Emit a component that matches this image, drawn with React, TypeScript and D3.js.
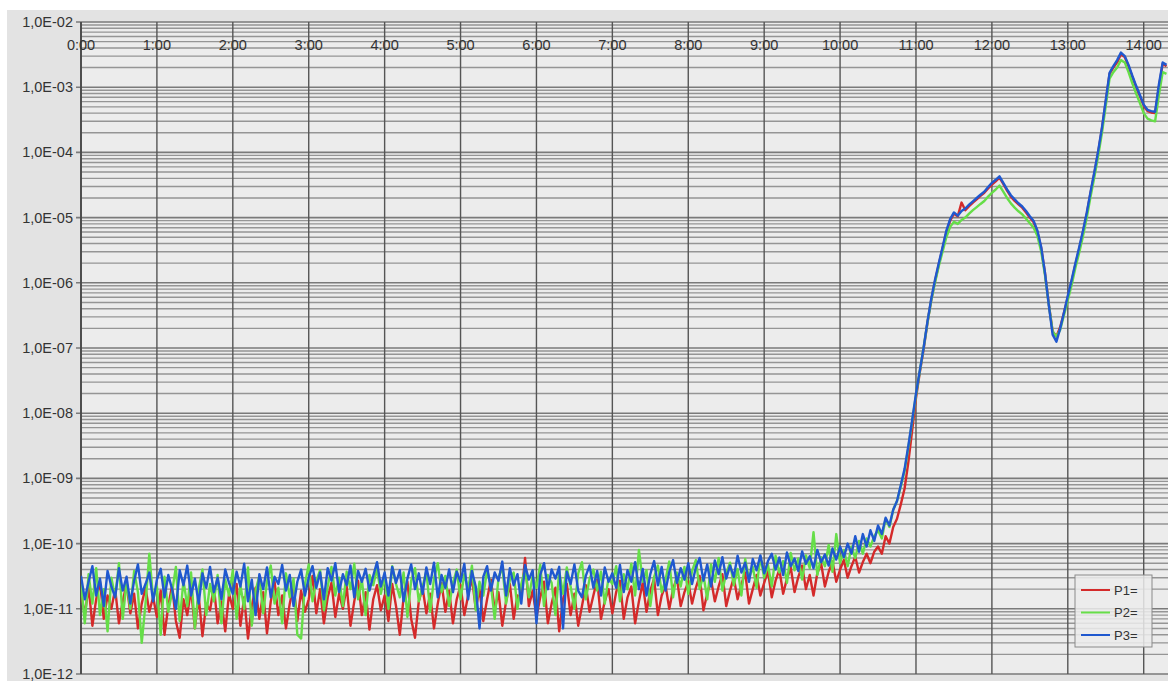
import React from 'react';
import * as d3 from 'd3';

// samples every 3 minutes, starting at 0:00
const STEP_MIN = 3;

const p1 = [
  1.8e-11, 8.0e-12, 2.2e-11, 5.5e-12, 1.4e-11, 2.6e-11, 7.0e-12, 1.6e-11, 1.0e-11, 2.0e-11, 6.0e-12, 1.3e-11, 2.4e-11, 8.5e-12, 1.7e-11, 5.0e-12, 1.2e-11, 2.1e-11, 9.0e-12, 1.5e-11,
  7.5e-12, 1.9e-11, 4.0e-12, 1.1e-11, 2.3e-11, 6.5e-12, 3.6e-12, 1.4e-11, 8.0e-12, 2.0e-11, 5.0e-12, 1.6e-11, 3.8e-12, 1.2e-11, 9.5e-12, 2.2e-11, 6.0e-12, 1.3e-11, 4.5e-12, 1.7e-11,
  1.0e-11, 2.4e-11, 5.5e-12, 1.5e-11, 3.5e-12, 1.1e-11, 2.1e-11, 7.0e-12, 1.8e-11, 4.2e-12, 1.3e-11, 2.6e-11, 8.0e-12, 1.6e-11, 5.0e-12, 1.2e-11, 2.3e-11, 6.5e-12, 1.9e-11, 9.0e-12,
  1.4e-11, 3.2e-11, 8.5e-12, 2.0e-11, 6.0e-12, 1.5e-11, 2.5e-11, 7.5e-12, 1.7e-11, 1.0e-11, 2.2e-11, 5.5e-12, 1.3e-11, 2.7e-11, 8.0e-12, 1.8e-11, 4.8e-12, 1.4e-11, 2.3e-11, 9.5e-12,
  1.6e-11, 6.5e-12, 2.4e-11, 1.1e-11, 4.0e-12, 1.5e-11, 2.6e-11, 7.0e-12, 3.6e-12, 1.3e-11, 2.1e-11, 8.5e-12, 1.7e-11, 5.0e-12, 1.2e-11, 2.5e-11, 9.0e-12, 1.9e-11, 6.0e-12, 1.4e-11,
  2.3e-11, 8.0e-12, 1.6e-11, 3.0e-11, 1.0e-11, 2.0e-11, 6.5e-12, 1.4e-11, 2.8e-11, 9.5e-12, 1.8e-11, 5.5e-12, 1.3e-11, 2.4e-11, 7.0e-12, 1.6e-11, 1.5e-11, 6.0e-11, 1.1e-11, 1.9e-11,
  7.5e-12, 1.5e-11, 2.6e-11, 6.0e-12, 1.2e-11, 2.1e-11, 4.5e-12, 1.4e-11, 2.4e-11, 8.0e-12, 1.7e-11, 5.5e-12, 1.1e-11, 2.3e-11, 9.0e-12, 1.6e-11, 2.8e-11, 7.0e-12, 1.3e-11, 2.0e-11,
  8.5e-12, 1.8e-11, 2.7e-11, 7.0e-12, 1.5e-11, 2.2e-11, 6.0e-12, 1.3e-11, 2.5e-11, 9.0e-12, 1.9e-11, 2.9e-11, 8.0e-12, 1.6e-11, 2.3e-11, 1.0e-11, 2.0e-11, 3.0e-11, 1.1e-11, 1.8e-11,
  2.6e-11, 1.2e-11, 2.1e-11, 3.2e-11, 9.5e-12, 1.7e-11, 2.8e-11, 1.3e-11, 2.2e-11, 3.4e-11, 1.1e-11, 1.9e-11, 3.0e-11, 1.4e-11, 2.4e-11, 3.6e-11, 1.2e-11, 2.0e-11, 3.3e-11, 1.6e-11,
  2.5e-11, 3.8e-11, 1.5e-11, 2.7e-11, 4.0e-11, 1.7e-11, 2.9e-11, 4.3e-11, 1.8e-11, 3.1e-11, 4.6e-11, 2.0e-11, 3.3e-11, 1.6e-11, 3.5e-11, 5.0e-11, 2.2e-11, 3.7e-11, 5.3e-11, 2.6e-11,
  4.0e-11, 5.6e-11, 3.0e-11, 4.5e-11, 6.3e-11, 3.6e-11, 5.2e-11, 7.0e-11, 5.0e-11, 7.5e-11,
  9.0e-11, 7.0e-11, 1.3e-10, 1.0e-10, 1.8e-10, 2.4e-10, 4.0e-10, 7.0e-10, 1.8e-9, 5.5e-9,
  1.7e-8, 4.2e-8, 9.5e-8, 2.4e-7, 5.4e-7, 1.05e-6, 1.9e-6, 3.4e-6, 6.0e-6, 9.0e-6, 1.15e-5, 1.05e-5, 1.7e-5, 1.3e-5, 1.5e-5, 1.7e-5, 1.9e-5, 2.15e-5, 2.4e-5, 2.8e-5,
  3.2e-5, 3.6e-5, 4.1e-5, 3.3e-5, 2.6e-5, 2.1e-5, 1.8e-5, 1.6e-5, 1.42e-5, 1.2e-5, 1.0e-5, 8.5e-6, 6.0e-6, 3.4e-6, 1.4e-6, 4.7e-7, 1.8e-7, 1.5e-7, 2.1e-7, 3.5e-7,
  6.0e-7, 1.05e-6, 1.9e-6, 3.3e-6, 6.0e-6, 1.15e-5, 2.4e-5, 4.8e-5, 1.0e-4, 2.3e-4, 6.0e-4, 1.6e-3, 2.0e-3, 2.4e-3, 3.2e-3, 2.9e-3, 2.1e-3, 1.45e-3, 1.0e-3, 7.3e-4,
  5.2e-4, 4.3e-4, 4.1e-4, 4.0e-4, 1.0e-3, 2.3e-3, 2.1e-3,
];

const p2 = [
  2.5e-11, 6.0e-12, 3.4e-11, 1.2e-11, 4.2e-11, 8.0e-12, 2.0e-11, 4.5e-12, 3.0e-11, 1.5e-11, 5.0e-11, 7.0e-12, 2.6e-11, 1.0e-11, 3.8e-11, 1.8e-11, 3.0e-12, 1.2e-11, 7.0e-11, 1.4e-11,
  2.2e-11, 4.0e-12, 3.1e-11, 9.0e-12, 1.8e-11, 4.4e-11, 6.5e-12, 2.7e-11, 1.1e-11, 3.6e-11, 5.0e-12, 2.0e-11, 4.0e-11, 8.0e-12, 2.4e-11, 1.3e-11, 3.3e-11, 6.0e-12, 2.8e-11, 1.6e-11,
  3.9e-11, 7.0e-12, 2.3e-11, 1.0e-11, 4.3e-11, 5.5e-12, 1.9e-11, 3.2e-11, 8.5e-12, 2.6e-11, 4.6e-11, 1.2e-11, 2.1e-11, 6.0e-12, 3.5e-11, 1.5e-11, 2.9e-11, 4.0e-12, 3.5e-12, 2.4e-11,
  4.8e-11, 1.3e-11, 2.7e-11, 3.9e-11, 9.5e-12, 2.2e-11, 4.4e-11, 1.6e-11, 3.0e-11, 1.1e-11, 3.7e-11, 2.0e-11, 4.9e-11, 1.4e-11, 2.8e-11, 8.0e-12, 3.3e-11, 2.3e-11, 4.1e-11, 1.7e-11,
  3.1e-11, 1.0e-11, 4.5e-11, 2.4e-11, 1.5e-11, 3.6e-11, 7.5e-12, 2.7e-11, 4.2e-11, 1.3e-11, 2.2e-11, 3.8e-11, 9.0e-12, 2.9e-11, 5.0e-11, 1.8e-11, 3.2e-11, 1.1e-11, 2.5e-11, 4.0e-11,
  1.4e-11, 3.4e-11, 2.0e-11, 4.6e-11, 9.5e-12, 2.6e-11, 1.6e-11, 3.9e-11, 2.3e-11, 7.0e-12, 3.0e-11, 4.4e-11, 1.2e-11, 2.8e-11, 3.6e-11, 1.0e-11, 2.4e-11, 4.1e-11, 1.5e-11, 3.2e-11,
  2.1e-11, 4.7e-11, 1.1e-11, 3.3e-11, 2.5e-11, 8.0e-12, 3.8e-11, 1.7e-11, 4.3e-11, 2.2e-11, 1.0e-11, 3.5e-11, 5.2e-11, 1.4e-11, 2.9e-11, 4.0e-11, 1.9e-11, 3.7e-11, 1.2e-11, 3.0e-11,
  2.4e-11, 4.5e-11, 1.3e-11, 3.4e-11, 2.0e-11, 4.9e-11, 1.6e-11, 8.0e-11, 2.6e-11, 3.9e-11, 1.1e-11, 3.1e-11, 4.6e-11, 1.8e-11, 2.8e-11, 5.3e-11, 1.5e-11, 3.6e-11, 2.2e-11, 4.4e-11,
  1.7e-11, 3.8e-11, 5.6e-11, 2.0e-11, 3.3e-11, 1.4e-11, 4.8e-11, 2.6e-11, 6.0e-11, 1.9e-11, 3.5e-11, 5.1e-11, 2.3e-11, 4.1e-11, 1.6e-11, 5.8e-11, 2.9e-11, 4.4e-11, 2.1e-11, 6.3e-11,
  3.0e-11, 4.7e-11, 2.2e-11, 6.5e-11, 3.6e-11, 5.4e-11, 2.5e-11, 7.2e-11, 3.9e-11, 5.9e-11, 2.8e-11, 6.6e-11, 4.2e-11, 1.5e-10, 3.3e-11, 6.2e-11, 4.5e-11, 9.5e-11, 3.7e-11, 1.4e-10,
  5.0e-11, 8.0e-11, 4.5e-11, 9.0e-11, 6.0e-11, 1.1e-10, 7.0e-11, 1.2e-10, 9.0e-11, 1.3e-10,
  1.6e-10, 1.2e-10, 2.4e-10, 1.8e-10, 3.3e-10, 4.5e-10, 7.5e-10, 1.3e-9, 3.0e-9, 7.5e-9,
  1.9e-8, 4.4e-8, 1.0e-7, 2.4e-7, 5.3e-7, 1.0e-6, 1.8e-6, 3.0e-6, 5.0e-6, 7.2e-6, 8.6e-6, 8.0e-6, 9.2e-6, 1.0e-5, 1.15e-5, 1.3e-5, 1.45e-5, 1.62e-5, 1.8e-5, 2.1e-5,
  2.4e-5, 2.7e-5, 3.1e-5, 2.5e-5, 2.0e-5, 1.65e-5, 1.42e-5, 1.25e-5, 1.12e-5, 9.6e-6, 8.2e-6, 7.0e-6, 5.2e-6, 3.0e-6, 1.3e-6, 4.6e-7, 1.8e-7, 1.5e-7, 1.9e-7, 3.2e-7,
  5.4e-7, 9.2e-7, 1.7e-6, 2.9e-6, 5.2e-6, 1.0e-5, 2.1e-5, 4.2e-5, 8.8e-5, 2.0e-4, 5.2e-4, 1.35e-3, 1.7e-3, 2.0e-3, 2.6e-3, 2.4e-3, 1.7e-3, 1.15e-3, 8.0e-4, 5.7e-4,
  4.0e-4, 3.3e-4, 3.1e-4, 3.0e-4, 7.5e-4, 1.7e-3, 1.6e-3,
];

const p3 = [
  3.2e-11, 1.4e-11, 2.6e-11, 4.5e-11, 1.6e-11, 2.9e-11, 1.1e-11, 3.8e-11, 2.2e-11, 1.5e-11, 4.2e-11, 1.9e-11, 3.1e-11, 1.2e-11, 2.7e-11, 4.8e-11, 1.7e-11, 2.4e-11, 3.6e-11, 1.3e-11,
  2.8e-11, 4.1e-11, 1.5e-11, 3.3e-11, 2.0e-11, 1.0e-11, 3.9e-11, 2.3e-11, 4.6e-11, 1.6e-11, 2.9e-11, 1.2e-11, 3.5e-11, 2.1e-11, 4.4e-11, 1.8e-11, 3.0e-11, 1.4e-11, 4.0e-11, 2.5e-11,
  1.7e-11, 3.7e-11, 2.2e-11, 4.9e-11, 1.3e-11, 2.8e-11, 8.0e-12, 3.4e-11, 2.0e-11, 4.3e-11, 1.5e-11, 3.1e-11, 2.4e-11, 4.7e-11, 1.9e-11, 3.3e-11, 1.1e-11, 2.6e-11, 4.0e-11, 1.6e-11,
  3.0e-11, 4.5e-11, 2.1e-11, 3.6e-11, 1.4e-11, 4.2e-11, 2.7e-11, 5.0e-11, 1.8e-11, 3.4e-11, 2.3e-11, 4.6e-11, 1.5e-11, 3.8e-11, 2.6e-11, 4.1e-11, 1.9e-11, 3.2e-11, 5.2e-11, 2.2e-11,
  3.6e-11, 1.6e-11, 4.4e-11, 2.5e-11, 3.9e-11, 1.3e-11, 2.9e-11, 4.8e-11, 2.0e-11, 3.5e-11, 1.7e-11, 4.3e-11, 2.4e-11, 5.1e-11, 1.5e-11, 3.3e-11, 2.1e-11, 4.0e-11, 1.8e-11, 3.7e-11,
  2.6e-11, 4.9e-11, 1.4e-11, 3.8e-11, 2.2e-11, 5.0e-12, 3.1e-11, 4.5e-11, 1.9e-11, 3.6e-11, 2.7e-11, 5.3e-11, 1.6e-11, 4.2e-11, 2.3e-11, 3.4e-11, 1.2e-11, 4.7e-11, 2.8e-11, 3.9e-11,
  6.0e-12, 3.3e-11, 5.0e-11, 2.0e-11, 4.0e-11, 2.9e-11, 4.4e-11, 5.0e-12, 3.7e-11, 2.4e-11, 4.8e-11, 1.9e-11, 1.5e-11, 3.2e-11, 4.6e-11, 2.1e-11, 3.8e-11, 1.6e-11, 4.3e-11, 2.6e-11,
  3.5e-11, 2.1e-11, 4.7e-11, 1.8e-11, 3.9e-11, 2.6e-11, 5.2e-11, 2.0e-11, 4.1e-11, 1.6e-11, 3.4e-11, 5.4e-11, 2.3e-11, 4.4e-11, 1.9e-11, 3.7e-11, 5.6e-11, 2.5e-11, 4.2e-11, 2.8e-11,
  5.0e-11, 2.4e-11, 4.3e-11, 6.0e-11, 2.7e-11, 4.8e-11, 2.2e-11, 5.5e-11, 3.4e-11, 6.2e-11, 2.9e-11, 4.6e-11, 3.1e-11, 6.5e-11, 3.6e-11, 5.1e-11, 2.6e-11, 5.8e-11, 3.9e-11, 6.6e-11,
  3.5e-11, 5.4e-11, 7.0e-11, 4.0e-11, 6.1e-11, 3.3e-11, 7.3e-11, 4.5e-11, 5.9e-11, 3.8e-11, 7.6e-11, 4.9e-11, 6.4e-11, 4.2e-11, 8.0e-11, 5.2e-11, 6.8e-11, 4.6e-11, 8.4e-11, 5.7e-11,
  9.0e-11, 6.2e-11, 1.0e-10, 7.0e-11, 1.3e-10, 7.5e-11, 1.4e-10, 9.0e-11, 1.6e-10, 1.1e-10,
  1.9e-10, 1.4e-10, 2.5e-10, 1.9e-10, 3.3e-10, 4.5e-10, 7.9e-10, 1.4e-9, 3.2e-9, 7.9e-9,
  2.0e-8, 4.5e-8, 1.0e-7, 2.5e-7, 5.6e-7, 1.1e-6, 2.0e-6, 3.5e-6, 6.3e-6, 9.5e-6, 1.2e-5, 1.07e-5, 1.26e-5, 1.38e-5, 1.58e-5, 1.78e-5, 2.0e-5, 2.24e-5, 2.5e-5, 2.95e-5,
  3.4e-5, 3.8e-5, 4.3e-5, 3.4e-5, 2.7e-5, 2.2e-5, 1.9e-5, 1.66e-5, 1.48e-5, 1.26e-5, 1.05e-5, 8.9e-6, 6.3e-6, 3.5e-6, 1.4e-6, 4.5e-7, 1.6e-7, 1.25e-7, 2.0e-7, 3.5e-7,
  6.3e-7, 1.1e-6, 2.0e-6, 3.5e-6, 6.3e-6, 1.2e-5, 2.5e-5, 5.0e-5, 1.05e-4, 2.4e-4, 6.3e-4, 1.66e-3, 2.1e-3, 2.6e-3, 3.4e-3, 3.0e-3, 2.2e-3, 1.5e-3, 1.05e-3, 7.6e-4,
  5.4e-4, 4.5e-4, 4.3e-4, 4.2e-4, 1.1e-3, 2.4e-3, 2.2e-3,
];

const seriesNames = ['P1=', 'P2=', 'P3='];
const seriesColors = ['#d42a2a', '#66de48', '#1f58cf'];
const seriesValues = [p1, p2, p3];

const hourLabels = ['0:00', '1:00', '2:00', '3:00', '4:00', '5:00', '6:00', '7:00', '8:00', '9:00', '10:00', '11:00', '12:00', '13:00', '14:00'];
const decadeValues = [1e-2, 1e-3, 1e-4, 1e-5, 1e-6, 1e-7, 1e-8, 1e-9, 1e-10, 1e-11, 1e-12];
const decadeLabels = ['1,0E-02', '1,0E-03', '1,0E-04', '1,0E-05', '1,0E-06', '1,0E-07', '1,0E-08', '1,0E-09', '1,0E-10', '1,0E-11', '1,0E-12'];

const W = 1168;
const H = 681;
const plot = { left: 81, right: 1168, top: 22, bottom: 674 };

export default function App() {
  const x = d3.scaleLinear().domain([0, 859.2]).range([plot.left, plot.right]);
  const y = d3.scaleLog().domain([1e-12, 1e-2]).range([plot.bottom, plot.top]);

  // 2..9 x 10^n lines between the decades
  const minorTicks = y.ticks(20).filter((v) => !decadeValues.some((d) => Math.abs(v / d - 1) < 1e-6));

  const line = d3
    .line<number>()
    .x((_, i) => x(i * STEP_MIN))
    .y((v) => y(v));

  const font = '"Liberation Sans", Arial, sans-serif';

  return (
    <div style={{ position: 'fixed', left: 0, top: 0 }}>
      <svg width={W} height={H} style={{ display: 'block' }}>
        <defs>
          <clipPath id="plotClip">
            <rect x={plot.left} y={plot.top} width={plot.right - plot.left} height={plot.bottom - plot.top} />
          </clipPath>
        </defs>
        <rect x={0} y={0} width={W} height={H} fill="#ffffff" />
        <rect x={7} y={10} width={W - 7} height={H - 10} fill="#e3e3e3" />
        <rect x={plot.left} y={plot.top} width={plot.right - plot.left} height={plot.bottom - plot.top} fill="#ececec" />

        {/* horizontal gridlines */}
        {minorTicks.map((v, i) => (
          <line key={'m' + i} x1={plot.left} x2={plot.right} y1={y(v)} y2={y(v)} stroke="#959595" strokeWidth={1.4} />
        ))}
        {decadeValues.map((v, i) => (
          <line key={'d' + i} x1={plot.left - 5} x2={plot.right} y1={y(v)} y2={y(v)} stroke="#7a7a7a" strokeWidth={1.6} />
        ))}

        {/* hour gridlines */}
        {hourLabels.map((_, h) => (
          <line key={'h' + h} x1={x(h * 60)} x2={x(h * 60)} y1={plot.top} y2={plot.bottom} stroke="#555555" strokeWidth={1.4} />
        ))}
        <line x1={plot.left} x2={plot.left} y1={plot.top} y2={plot.bottom} stroke="#4a4a4a" strokeWidth={1.8} />

        {/* y labels */}
        {decadeLabels.map((t, i) => (
          <text key={'yl' + i} x={73} y={y(decadeValues[i])} dy="0.35em" textAnchor="end" fontFamily={font} fontSize={14.5} fill="#333">
            {t}
          </text>
        ))}

        {/* x labels sit just under the top edge */}
        {hourLabels.map((t, h) => (
          <text key={'xl' + h} x={x(h * 60)} y={50} textAnchor="middle" fontFamily={font} fontSize={14.5} fill="#333">
            {t}
          </text>
        ))}

        <g clipPath="url(#plotClip)">
          {seriesValues.map((vals, s) => (
            <path key={'s' + s} d={line(vals) || ''} fill="none" stroke={seriesColors[s]} strokeWidth={2.4} strokeLinejoin="round" />
          ))}
        </g>

        {/* legend */}
        <g>
          <rect x={1075} y={575} width={77} height={72} fill="#ececec" fillOpacity={0.85} stroke="#8a8a8a" strokeWidth={1} />
          {seriesNames.map((n, s) => (
            <g key={'lg' + s} transform={`translate(0, ${590 + s * 22.5})`}>
              <line x1={1081} x2={1110} y1={0} y2={0} stroke={seriesColors[s]} strokeWidth={2} />
              <text x={1114} y={0} dy="0.35em" fontFamily={font} fontSize={13} fill="#333">
                {n}
              </text>
            </g>
          ))}
        </g>
      </svg>
    </div>
  );
}
